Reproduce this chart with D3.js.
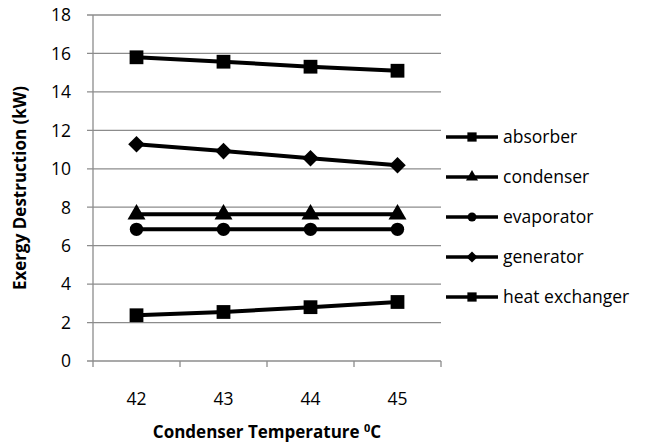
<!DOCTYPE html>
<html>
<head>
<meta charset="utf-8">
<script src="https://cdn.jsdelivr.net/npm/d3@7"></script>
<style>
  body { margin: 0; background: #fff; }
  text { font-family: "Open Sans", "DejaVu Sans", sans-serif; fill: #000; }
</style>
</head>
<body>
<svg id="chart" width="645" height="448"></svg>
<script>
// condenser temperature categories
let temps = ["42", "43", "44", "45"]
let yTicks = [0, 2, 4, 6, 8, 10, 12, 14, 16, 18]

let absorber = [15.8, 15.57, 15.31, 15.1]
let condenser = [7.63, 7.63, 7.63, 7.63]
let evaporator = [6.85, 6.85, 6.85, 6.85]
let generator = [11.28, 10.92, 10.55, 10.18]
let heatExchanger = [2.38, 2.55, 2.8, 3.07]

let diamond = d3.symbolDiamond2 || d3.symbolDiamond
let series = [
    {name: "absorber", values: absorber, symbol: d3.symbolSquare},
    {name: "condenser", values: condenser, symbol: d3.symbolTriangle},
    {name: "evaporator", values: evaporator, symbol: d3.symbolCircle},
    {name: "generator", values: generator, symbol: diamond},
    {name: "heat exchanger", values: heatExchanger, symbol: d3.symbolSquare},
]

let svg = d3.select("svg#chart")
let plotLeft = 93, plotRight = 441, plotTop = 15, plotBottom = 361

let x = d3.scaleBand().domain(temps).range([plotLeft, plotRight]).padding(0)
let y = d3.scaleLinear().domain([0, 18]).range([plotBottom, plotTop])

// gridlines
svg.append("g")
    .selectAll("line")
    .data(yTicks)
    .join("line")
        .attr("x1", plotLeft - 6)
        .attr("x2", plotRight)
        .attr("y1", d => y(d))
        .attr("y2", d => y(d))
        .attr("stroke", "#8c8c8c")
        .attr("stroke-width", 1.3)

// y axis line + labels
svg.append("line")
    .attr("x1", plotLeft).attr("x2", plotLeft)
    .attr("y1", plotTop).attr("y2", plotBottom)
    .attr("stroke", "#8c8c8c").attr("stroke-width", 1.3)
svg.append("g")
    .selectAll("text")
    .data(yTicks)
    .join("text")
        .attr("x", 71)
        .attr("y", d => y(d))
        .attr("dy", "0.36em")
        .attr("text-anchor", "end")
        .attr("font-size", 17.5)
        .text(d => d)

// x axis ticks at category boundaries
let bounds = temps.map(t => x(t)).concat([plotRight])
svg.append("g")
    .selectAll("line")
    .data(bounds)
    .join("line")
        .attr("x1", d => d).attr("x2", d => d)
        .attr("y1", plotBottom).attr("y2", plotBottom + 6)
        .attr("stroke", "#8c8c8c").attr("stroke-width", 1.3)
svg.append("g")
    .selectAll("text")
    .data(temps)
    .join("text")
        .attr("x", d => x(d) + x.bandwidth()/2)
        .attr("y", plotBottom + 38)
        .attr("dy", "0.36em")
        .attr("text-anchor", "middle")
        .attr("font-size", 17.5)
        .text(d => d)

// axis titles
svg.append("text")
    .attr("transform", `translate(26,188) rotate(-90)`)
    .attr("text-anchor", "middle")
    .attr("font-size", 17)
    .attr("font-weight", "bold")
    .text("Exergy Destruction (kW)")
let xt = svg.append("text")
    .attr("x", 267)
    .attr("y", 438)
    .attr("text-anchor", "middle")
    .attr("font-size", 17)
    .attr("font-weight", "bold")
xt.append("tspan").text("Condenser Temperature ")
xt.append("tspan").attr("font-size", 11).attr("dy", -6).text("0")
xt.append("tspan").attr("dy", 6).text("C")

let line = d3.line()
    .x((d, i) => x(temps[i]) + x.bandwidth()/2)
    .y(d => y(d))

let sizes = new Map([
    [d3.symbolSquare, 190], [d3.symbolTriangle, 140],
    [d3.symbolCircle, 140], [diamond, 175],
])

let lines = svg.append("g")
    .selectAll("g")
    .data(series)
    .join("g")
lines.append("path")
    .attr("fill", "none")
    .attr("stroke", "#000")
    .attr("stroke-width", 4)
    .attr("d", d => line(d.values))
lines.selectAll(".pt")
    .data(d => d.values.map((v, i) => ({v, i, symbol: d.symbol})))
    .join("path")
        .classed("pt", true)
        .attr("transform", d => `translate(${x(temps[d.i]) + x.bandwidth()/2},${y(d.v)})`)
        .attr("d", d => d3.symbol(d.symbol, sizes.get(d.symbol))())
        .attr("fill", "#000")

// legend
let legend = svg.append("g")
    .selectAll("g")
    .data(series)
    .join("g")
        .attr("transform", (d, i) => `translate(446,${137 + i*40})`)
legend.append("line")
    .attr("x1", 0).attr("x2", 52)
    .attr("stroke", "#000").attr("stroke-width", 3.5)
legend.append("path")
    .attr("transform", "translate(26,0)")
    .attr("d", d => d3.symbol(d.symbol, sizes.get(d.symbol) * 0.45)())
    .attr("fill", "#000")
legend.append("text")
    .attr("x", 57)
    .attr("dy", "0.36em")
    .attr("font-size", 17.5)
    .text(d => d.name)
</script>
</body>
</html>
